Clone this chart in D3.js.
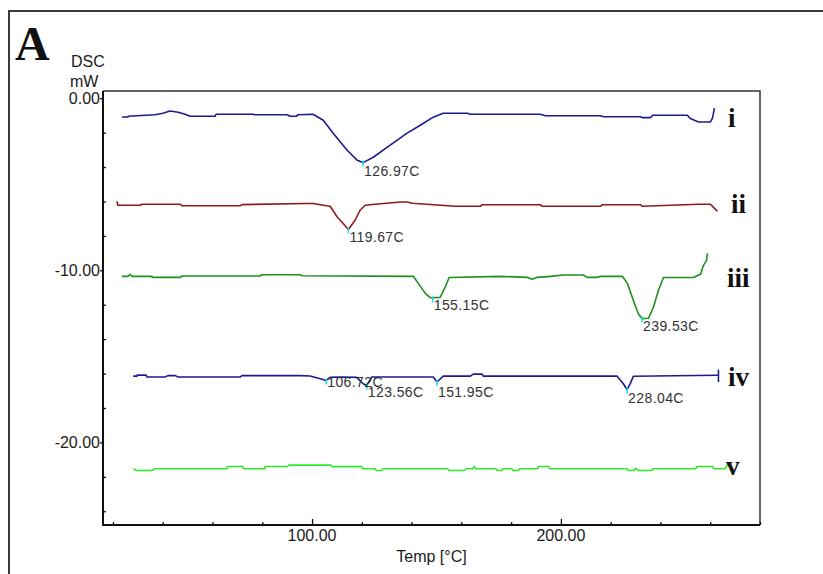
<!DOCTYPE html>
<html>
<head>
<meta charset="utf-8">
<script src="https://cdn.jsdelivr.net/npm/d3@7"></script>
<style>
  body { margin: 0; background: #fff; }
  svg { display: block; }
  .tick-label { font-family: "Liberation Sans", Arial, sans-serif; font-size: 16px; fill: #1a1a1a; }
  .peak-label { font-family: "Liberation Sans", Arial, sans-serif; font-size: 14px; fill: #333; letter-spacing: 0.4px; }
  .roman { font-family: "Liberation Serif", "Times New Roman", serif; font-weight: bold; font-size: 27px; fill: #111; }
</style>
</head>
<body>
<div id="wrapper"></div>
<script>
// DSC traces, temperature in C and heat flow in mW
const tempI = [23.6,26.1,26.1,36.9,40.1,42.9,46.2,49.0,51.0,61.0,61.4,76.3,77.1,90.0,91.2,93.6,94.4,100.4,104.5,108.5,114.1,118.1,120.5,124.6,131.4,138.2,143.5,148.7,152.7,162.4,163.6,191.7,193.7,215.9,217.1,232.0,232.8,236.0,236.8,250.8,252.0,255.3,260.1,260.9,261.7];
const dscI = [-1.09,-1.09,-1.05,-0.96,-0.87,-0.74,-0.81,-0.93,-1.05,-1.05,-0.93,-0.93,-0.96,-0.96,-1.05,-1.05,-0.96,-0.93,-1.28,-2.03,-3.02,-3.60,-3.74,-3.43,-2.73,-2.03,-1.57,-1.10,-0.87,-0.87,-0.93,-0.93,-1.02,-1.02,-1.08,-1.08,-1.13,-1.13,-0.99,-0.99,-1.18,-1.38,-1.38,-1.16,-0.58];

const tempII = [21.6,22.0,30.9,31.7,47.0,47.8,71.1,71.9,97.2,100.4,104.5,107.3,110.1,112.5,114.6,117.3,119.3,121.4,125.4,135.4,138.2,140.3,157.5,167.6,168.4,191.7,192.5,215.9,216.7,232.0,232.8,255.6,260.1,261.7,262.9];
const dscII = [-5.99,-6.22,-6.22,-6.16,-6.16,-6.25,-6.25,-6.18,-6.12,-6.12,-6.22,-6.28,-6.90,-7.28,-7.63,-7.09,-6.51,-6.22,-6.16,-6.03,-6.03,-6.10,-6.28,-6.28,-6.19,-6.19,-6.28,-6.28,-6.19,-6.19,-6.28,-6.16,-6.16,-6.40,-6.57];

const tempIII = [23.6,26.1,26.9,27.7,35.7,35.7,47.0,47.8,79.1,79.9,95.2,96.0,140.7,142.7,145.5,147.5,151.5,153.5,155.1,175.6,186.5,188.5,190.5,195.7,201.0,209.0,210.6,214.6,215.9,224.7,226.7,229.1,231.1,232.6,235.2,237.2,239.2,241.2,253.2,256.1,257.3,258.5,258.9];
const dscIII = [-10.35,-10.35,-10.23,-10.35,-10.35,-10.41,-10.41,-10.33,-10.33,-10.26,-10.26,-10.32,-10.35,-10.76,-11.34,-11.59,-11.57,-10.97,-10.42,-10.35,-10.41,-10.52,-10.41,-10.35,-10.27,-10.27,-10.41,-10.41,-10.35,-10.35,-10.76,-11.74,-12.52,-12.81,-12.79,-12.13,-11.16,-10.42,-10.42,-10.23,-9.71,-9.42,-9.01];

const tempIV = [28.1,29.7,29.7,33.3,33.7,40.9,42.1,45.0,46.2,71.1,71.9,95.2,99.2,103.3,105.7,107.3,111.3,118.0,120.5,122.0,124.0,148.7,150.2,152.7,163.6,164.8,168.3,168.8,222.6,225.1,226.6,227.9,229.1,262.8,263.3,263.3,263.3];
const dscIV = [-16.15,-16.15,-16.09,-16.09,-16.20,-16.20,-16.12,-16.12,-16.20,-16.20,-16.12,-16.12,-16.14,-16.30,-16.40,-16.22,-16.20,-16.22,-16.59,-16.69,-16.20,-16.20,-16.49,-16.15,-16.15,-16.03,-16.03,-16.15,-16.15,-16.59,-16.94,-16.57,-16.16,-16.10,-16.10,-15.81,-16.49];

const tempV = [28.3,29.3,36.1,36.5,65.8,66.1,72.1,72.5,81.1,81.1,90.1,90.7,107.6,108.1,119.9,120.4,125.3,125.7,128.0,128.4,154.5,155.0,161.3,161.9,164.6,165.1,165.8,173.9,174.5,176.3,176.7,180.3,180.8,182.9,183.3,190.5,191.1,195.0,195.5,226.6,227.1,229.4,230.0,231.1,236.5,237.0,254.2,254.7,261.0,261.4,265.9,267.2];
const dscV = [-21.53,-21.63,-21.63,-21.53,-21.53,-21.40,-21.40,-21.53,-21.53,-21.40,-21.40,-21.32,-21.32,-21.41,-21.41,-21.53,-21.53,-21.63,-21.63,-21.53,-21.53,-21.63,-21.63,-21.53,-21.53,-21.40,-21.53,-21.53,-21.63,-21.63,-21.53,-21.53,-21.63,-21.63,-21.53,-21.53,-21.40,-21.40,-21.53,-21.53,-21.63,-21.63,-21.50,-21.63,-21.63,-21.53,-21.53,-21.40,-21.40,-21.53,-21.53,-21.25];

const curveNames = ['i','ii','iii','iv','v'];

// peak picks
const peakTemps = [120.5,114.6,148.5,232.6,105.7,122.0,150.2,226.6];
const peakValues = [-3.74,-7.63,-11.63,-12.79,-16.40,-16.69,-16.49,-16.94];
const peakLabels = ['126.97C','119.67C','155.15C','239.53C','106.72C','123.56C','151.95C','228.04C'];

// axis ticks
const xMajorTicks = [100, 200];
const xMinorTicks = [20,40,60,80,120,140,160,180,220,240,260,280];
const yMajorTicks = [0, -10, -20];
const yMinorTicks = [-2,-4,-6,-8,-12,-14,-16,-18,-22,-24];

let width = 823, height = 574;
let plot = { left: 103, right: 760, top: 91, bottom: 525 };

let svg = d3.select('div#wrapper')
            .append('svg')
            .attr('width', width)
            .attr('height', height);

let x = d3.scaleLinear()
          .domain([16, 280])
          .range([plot.left, plot.right]);

let y = d3.scaleLinear()
          .domain([0.42, -24.8])
          .range([plot.top, plot.bottom]);

// outer panel frame (only top and left edges show)
svg.append('path')
   .attr('d', 'M9,574 L9,11 L823,11')
   .attr('fill', 'none')
   .attr('stroke', '#3a3a3a')
   .attr('stroke-width', 2);

svg.append('text')
   .attr('x', 15).attr('y', 60)
   .style('font-family', '"Liberation Serif", "Times New Roman", serif')
   .style('font-weight', 'bold')
   .style('font-size', '48px')
   .attr('fill', '#111')
   .text('A');

// plot frame
svg.append('path')
   .attr('d', 'M' + plot.left + ',' + plot.top + ' L' + plot.right + ',' + plot.top + ' L' + plot.right + ',' + plot.bottom)
   .attr('fill', 'none')
   .attr('stroke', '#333')
   .attr('stroke-width', 1.5);

let xAxis = d3.axisTop(x)
              .tickValues(xMajorTicks)
              .tickSize(6)
              .tickFormat('');
let xAxisMinor = d3.axisTop(x)
              .tickValues(xMinorTicks)
              .tickSize(3)
              .tickFormat('');
let yAxis = d3.axisRight(y)
              .tickValues(yMajorTicks)
              .tickSize(4)
              .tickFormat('');
let yAxisMinor = d3.axisRight(y)
              .tickValues(yMinorTicks)
              .tickSize(3)
              .tickFormat('');

svg.append('g').attr('class', 'x axis')
   .attr('transform', 'translate(0,' + plot.bottom + ')')
   .call(xAxisMinor);
svg.append('g').attr('class', 'x axis')
   .attr('transform', 'translate(0,' + plot.bottom + ')')
   .call(xAxis);
svg.append('g').attr('class', 'y axis')
   .attr('transform', 'translate(' + plot.left + ',0)')
   .call(yAxisMinor);
svg.append('g').attr('class', 'y axis')
   .attr('transform', 'translate(' + (plot.left - 3) + ',0)')
   .call(yAxis);

svg.selectAll('.axis path.domain').remove();
svg.selectAll('.axis line').attr('stroke', '#111').attr('stroke-width', 1.3);

// axis lines
svg.append('path')
   .attr('d', 'M' + plot.left + ',' + plot.top + ' L' + plot.left + ',' + plot.bottom + ' L' + plot.right + ',' + plot.bottom)
   .attr('fill', 'none')
   .attr('stroke', '#111')
   .attr('stroke-width', 2);

svg.selectAll('text.xlab')
   .data(xMajorTicks)
   .enter()
   .append('text')
   .attr('class', 'tick-label xlab')
   .attr('x', function(d){ return x(d); })
   .attr('y', 541)
   .attr('text-anchor', 'middle')
   .text(function(d){ return d.toFixed(2); });

svg.selectAll('text.ylab')
   .data(yMajorTicks)
   .enter()
   .append('text')
   .attr('class', 'tick-label ylab')
   .attr('x', 100)
   .attr('y', function(d){ return y(d) + 6; })
   .attr('text-anchor', 'end')
   .text(function(d){ return d.toFixed(2); });

svg.append('text').attr('class', 'tick-label')
   .attr('x', (plot.left + plot.right) / 2).attr('y', 562)
   .attr('text-anchor', 'middle')
   .text('Temp [\u00B0C]');

svg.append('text').attr('class', 'tick-label')
   .attr('x', 71).attr('y', 67)
   .text('DSC');
svg.append('text').attr('class', 'tick-label')
   .attr('x', 70).attr('y', 87)
   .text('mW');

// curves
let traces = [
  { t: tempI,   v: dscI,   color: '#1c1c8e' },
  { t: tempII,  v: dscII,  color: '#8e1a1a' },
  { t: tempIII, v: dscIII, color: '#1f8f1f' },
  { t: tempIV,  v: dscIV,  color: '#1c1c8e' },
  { t: tempV,   v: dscV,   color: '#2eea2e' }
];

let line = d3.line()
             .x(function(d){ return x(d[0]); })
             .y(function(d){ return y(d[1]); });

svg.append('g')
   .selectAll('path')
   .data(traces)
   .enter()
   .append('path')
   .attr('d', function(d){ return line(d3.zip(d.t, d.v)); })
   .attr('fill', 'none')
   .attr('stroke', function(d){ return d.color; })
   .attr('stroke-width', 1.6)
   .attr('stroke-linejoin', 'round');

// peak markers and labels
let peakLabelDy = [13, 12.5, 12, 13, 7, 12, 15, 13.5];

svg.append('g')
   .selectAll('line')
   .data(peakTemps)
   .enter()
   .append('line')
   .attr('x1', function(d){ return x(d); })
   .attr('x2', function(d){ return x(d); })
   .attr('y1', function(d, i){ return y(peakValues[i]) - 2; })
   .attr('y2', function(d, i){ return y(peakValues[i]) + 4; })
   .attr('stroke', '#19e0e8')
   .attr('stroke-width', 1.5);

svg.append('g')
   .selectAll('text')
   .data(peakLabels)
   .enter()
   .append('text')
   .attr('class', 'peak-label')
   .attr('x', function(d, i){ return x(peakTemps[i]) + 1; })
   .attr('y', function(d, i){ return y(peakValues[i]) + peakLabelDy[i]; })
   .attr('fill', function(d, i){ return i === 4 ? '#777' : '#333'; })
   .text(function(d){ return d; });

// roman numerals beside each trace
let romanY = [127, 213, 287, 386, 475];
let romanX = [728, 731, 727, 728, 726];
svg.selectAll('text.roman')
   .data(curveNames)
   .enter()
   .append('text')
   .attr('class', 'roman')
   .attr('x', function(d, i){ return romanX[i]; })
   .attr('y', function(d, i){ return romanY[i]; })
   .text(function(d){ return d; });
</script>
</body>
</html>
